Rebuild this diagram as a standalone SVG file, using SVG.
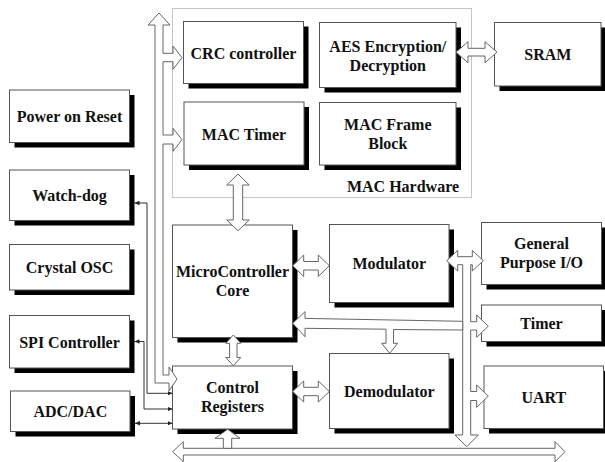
<svg xmlns="http://www.w3.org/2000/svg" width="605" height="462" viewBox="0 0 605 462">
<style>
.sh{fill:#000000;stroke:none}
.bx{fill:#ffffff;stroke:#555555;stroke-width:1}
.t{font-family:"Liberation Serif","Times New Roman",serif;font-weight:bold;font-size:16px;fill:#111111;text-anchor:middle}
.ba{fill:#ffffff;stroke:#666666;stroke-width:1}
.ln{fill:none;stroke:#333333;stroke-width:1}
.dot{fill:none;stroke:#8a8a8a;stroke-width:1;stroke-dasharray:1,1}
</style>
<defs>
<marker id="ah" markerWidth="6" markerHeight="6" refX="5" refY="3" orient="auto" markerUnits="userSpaceOnUse">
<path d="M0,0.8 L5,3 L0,5.2 Z" fill="#222222"/>
</marker>
<marker id="as" markerWidth="6" markerHeight="6" refX="0" refY="3" orient="auto" markerUnits="userSpaceOnUse">
<path d="M5,0.8 L0,3 L5,5.2 Z" fill="#222222"/>
</marker>
</defs>
<rect width="605" height="462" fill="#ffffff"/>
<g id="mac-hardware">
<rect class="dot" x="172.5" y="8.5" width="299" height="189"/>
<text class="t" x="403" y="191.5">MAC Hardware</text>
</g>
<g id="crc">
<rect class="sh" x="188.5" y="26.5" width="120" height="62"/>
<rect class="bx" x="183.5" y="21.5" width="120" height="62"/>
<text class="t" x="243.5" y="58.5">CRC controller</text>
</g>
<g id="mac-timer">
<rect class="sh" x="189" y="107" width="120" height="63"/>
<rect class="bx" x="184" y="102" width="120" height="63"/>
<text class="t" x="244" y="139.5">MAC Timer</text>
</g>
<g id="aes">
<rect class="sh" x="324.5" y="27.5" width="136.5" height="65"/>
<rect class="bx" x="319.5" y="22.5" width="136.5" height="65"/>
<text class="t" x="387.8" y="51.5">AES Encryption/</text>
<text class="t" x="387.8" y="70.5">Decryption</text>
</g>
<g id="mac-frame">
<rect class="sh" x="324.5" y="107.5" width="136.5" height="62.5"/>
<rect class="bx" x="319.5" y="102.5" width="136.5" height="62.5"/>
<text class="t" x="387.8" y="129.8">MAC Frame</text>
<text class="t" x="387.8" y="148.8">Block</text>
</g>
<g id="sram">
<rect class="sh" x="499.5" y="27.5" width="106.5" height="63.5"/>
<rect class="bx" x="494.5" y="22.5" width="106.5" height="63.5"/>
<text class="t" x="547.8" y="60">SRAM</text>
</g>
<g id="power-on-reset">
<rect class="sh" x="14.5" y="95" width="120" height="52.5"/>
<rect class="bx" x="9.5" y="90" width="120" height="52.5"/>
<text class="t" x="69.5" y="122">Power on Reset</text>
</g>
<g id="watch-dog">
<rect class="sh" x="14.5" y="175" width="120" height="50.5"/>
<rect class="bx" x="9.5" y="170" width="120" height="50.5"/>
<text class="t" x="69.5" y="201">Watch-dog</text>
</g>
<g id="crystal-osc">
<rect class="sh" x="14.5" y="249.5" width="120" height="45.5"/>
<rect class="bx" x="9.5" y="244.5" width="120" height="45.5"/>
<text class="t" x="69.5" y="273">Crystal OSC</text>
</g>
<g id="spi-controller">
<rect class="sh" x="14.5" y="320.5" width="120" height="52.5"/>
<rect class="bx" x="9.5" y="315.5" width="120" height="52.5"/>
<text class="t" x="69.5" y="347.5">SPI Controller</text>
</g>
<g id="adc-dac">
<rect class="sh" x="15.5" y="396" width="119.5" height="40.5"/>
<rect class="bx" x="10.5" y="391" width="119.5" height="40.5"/>
<text class="t" x="70.3" y="417">ADC/DAC</text>
</g>
<g id="mcu-core">
<rect class="sh" x="177.5" y="230" width="120" height="112.5"/>
<rect class="bx" x="172.5" y="225" width="120" height="112.5"/>
<text class="t" x="232.5" y="277">MicroController</text>
<text class="t" x="232.5" y="296">Core</text>
</g>
<g id="control-registers">
<rect class="sh" x="177.5" y="371" width="120" height="63"/>
<rect class="bx" x="172.5" y="366" width="120" height="63"/>
<text class="t" x="232.5" y="393">Control</text>
<text class="t" x="232.5" y="412">Registers</text>
</g>
<g id="modulator">
<rect class="sh" x="334.5" y="229.5" width="119.5" height="78"/>
<rect class="bx" x="329.5" y="224.5" width="119.5" height="78"/>
<text class="t" x="389.3" y="269">Modulator</text>
</g>
<g id="demodulator">
<rect class="sh" x="334.5" y="358.5" width="119.5" height="75"/>
<rect class="bx" x="329.5" y="353.5" width="119.5" height="75"/>
<text class="t" x="389.3" y="396.5">Demodulator</text>
</g>
<g id="gpio">
<rect class="sh" x="486.5" y="227.5" width="120" height="62"/>
<rect class="bx" x="481.5" y="222.5" width="120" height="62"/>
<text class="t" x="541.5" y="249">General</text>
<text class="t" x="541.5" y="268">Purpose I/O</text>
</g>
<g id="timer">
<rect class="sh" x="486.5" y="310" width="120" height="36.5"/>
<rect class="bx" x="481.5" y="305" width="120" height="36.5"/>
<text class="t" x="541.5" y="328.8">Timer</text>
</g>
<g id="uart">
<rect class="sh" x="489" y="371" width="119.5" height="62.5"/>
<rect class="bx" x="484" y="366" width="119.5" height="62.5"/>
<text class="t" x="543.8" y="403">UART</text>
</g>
<g id="connectors">
<polygon class="ba" points="159,13 170,25 163,25 163,53.3 173,53.3 173,46 182,57.7 173,69.3 173,61.7 163,61.7 163,135 173,135 173,128.3 182,139.7 173,151.3 173,144 163,144 163,375 169,375 169,367 177,379 169,391 169,383 155,383 155,25 148,25"/>
<polygon class="ba" points="456,52.2 468,41.7 468,48.3 485,48.3 485,41.7 497,52.2 485,62.7 485,56 468,56 468,62.7"/>
<polygon class="ba" points="238,174 249.3,185 242.7,185 242.7,220 249.3,220 238,230.7 226.7,220 233.3,220 233.3,185 226.7,185"/>
<polygon class="ba" points="292.7,265.7 303.7,255 303.7,261.5 318.3,261.5 318.3,255 329.3,265.7 318.3,276.5 318.3,270 303.7,270 303.7,276.5"/>
<polygon class="ba" points="233.3,335 240.8,343.3 237,343.3 237,357.5 240.8,357.5 233.3,365.7 225.8,357.5 229.6,357.5 229.6,343.3 225.8,343.3"/>
<polygon class="ba" points="292.7,391.5 303.7,381 303.7,387.3 318.3,387.3 318.3,381 329.3,391.5 318.3,402 318.3,395.7 303.7,395.7 303.7,402"/>
<polygon class="ba" points="446.7,260.7 457.7,250.4 457.7,256.7 472.3,256.7 472.3,250.4 483.3,260.7 472.3,271 472.3,264.7 470.7,264.7 470.7,321.7 476.7,321.7 476.7,315 488.3,326.2 476.7,337.3 476.7,330 470.7,330 470.7,391.5 476.7,391.5 476.7,385 488.3,396.2 476.7,407.3 476.7,400.5 470.7,400.5 470.7,435 478.3,435 466.7,446.7 455,435 462.7,435 462.7,264.7 457.7,264.7 457.7,271"/>
<polygon class="ba" points="292.7,323.3 305,311.7 305,318.4 462.7,321.3 462.7,330 393.5,329.5 393.5,343.3 397.7,343.3 389.7,353.3 381.7,343.3 386,343.3 386,329.2 305,328.3 305,336.7"/>
<polygon class="ba" points="172.7,451.7 183.3,441.7 183.3,448.3 555,448.3 555,441.7 565,451.7 555,461.7 555,455 183.3,455 183.3,461.7"/>
<polygon class="ba" points="227.7,429.3 240,438.3 231.7,438.3 231.7,448.3 223.3,448.3 223.3,438.3 215,438.3"/>
<path class="ln" d="M134.5,203 H147 V393.3 H172.5" marker-start="url(#as)" marker-end="url(#ah)"/>
<path class="ln" d="M134.5,341.5 H144 V409 H172.5" marker-start="url(#as)" marker-end="url(#ah)"/>
<path class="ln" d="M135,423.3 H172.5" marker-start="url(#as)" marker-end="url(#ah)"/>
</g>
</svg>
